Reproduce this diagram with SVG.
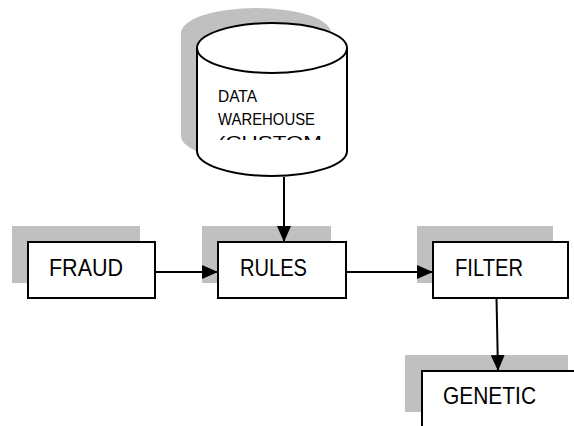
<svg xmlns="http://www.w3.org/2000/svg" width="574" height="426" viewBox="0 0 574 426">
  <style>
    .shadow { fill: #c0c0c0; stroke: none; }
    .box { fill: #ffffff; stroke: #000000; stroke-width: 2; }
    .lbl { font-family: "Liberation Sans", Arial, sans-serif; font-size: 24px; fill: #000000; }
    .dw { font-family: "Liberation Sans", Arial, sans-serif; font-size: 17px; fill: #000000; }
    .conn { fill: none; stroke: #000000; stroke-width: 2; marker-end: url(#ah); }
  </style>
  <defs>
    <marker id="ah" markerWidth="16" markerHeight="14" refX="16" refY="7" orient="auto" markerUnits="userSpaceOnUse">
      <path d="M0,0 L16,7 L0,14 z" fill="#000000"/>
    </marker>
    <clipPath id="dwclip">
      <rect x="200" y="70" width="145" height="70"/>
    </clipPath>
  </defs>
  <rect width="574" height="426" fill="#ffffff"/>

  <g id="datawarehouse">
    <path class="shadow" d="M181,33 A75,25 0 0 1 331,33 V136 A75,25 0 0 1 181,136 Z"/>
    <path class="box" d="M197,48 A75,25 0 0 1 347,48 V151 A75,25 0 0 1 197,151 Z"/>
    <path d="M197,48 A75,25 0 0 0 347,48" fill="none" stroke="#000" stroke-width="2"/>
    <g clip-path="url(#dwclip)">
      <text class="dw" x="218" y="102" textLength="39" lengthAdjust="spacingAndGlyphs">DATA</text>
      <text class="dw" x="218" y="125" textLength="97" lengthAdjust="spacingAndGlyphs">WAREHOUSE</text>
      <text class="dw" x="218" y="148" textLength="104" lengthAdjust="spacingAndGlyphs">(CUSTOM</text>
    </g>
  </g>

  <g id="fraud">
    <rect class="shadow" x="12" y="226" width="128" height="57"/>
    <rect class="box" x="28" y="242" width="127" height="56"/>
    <text class="lbl" x="49" y="276" textLength="74" lengthAdjust="spacingAndGlyphs">FRAUD</text>
  </g>

  <g id="rules">
    <rect class="shadow" x="202" y="226" width="129" height="57"/>
    <rect class="box" x="218" y="242" width="128" height="56"/>
    <text class="lbl" x="240" y="276" textLength="67" lengthAdjust="spacingAndGlyphs">RULES</text>
  </g>

  <g id="filter">
    <rect class="shadow" x="417" y="226" width="136" height="57"/>
    <rect class="box" x="433" y="242" width="135" height="56"/>
    <text class="lbl" x="455" y="276" textLength="68" lengthAdjust="spacingAndGlyphs">FILTER</text>
  </g>

  <g id="genetic">
    <rect class="shadow" x="405" y="355" width="163" height="57"/>
    <rect class="box" x="422" y="371" width="170" height="70"/>
    <text class="lbl" x="443" y="404" textLength="93" lengthAdjust="spacingAndGlyphs">GENETIC</text>
  </g>

  <g id="connectors">
    <path class="conn" d="M284,177 V242"/>
    <path class="conn" d="M155,272 H218"/>
    <path class="conn" d="M346,272 H433"/>
    <path class="conn" d="M496.5,298 L498,371"/>
  </g>
</svg>
